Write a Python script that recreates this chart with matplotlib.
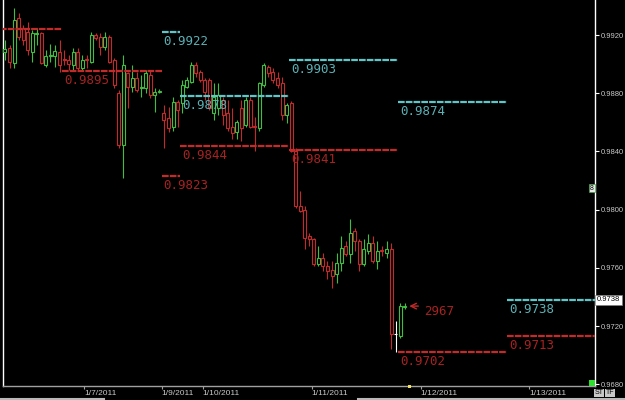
import numpy as np
import matplotlib
matplotlib.use("Agg")
import matplotlib.pyplot as plt
from matplotlib.patches import Rectangle
from matplotlib.lines import Line2D

# hourly candles (index 0 = first bar on the left)
opens = [
    .99082, .99110, .99006, .99317, .99248, .99220, .99082, .99206, .99213, .98993,
    .99055, .99055, .99082, .99034, .99027, .98993, .99082, .98972, .99034, .99013,
    .99200, .99186, .99117, .99186, .99027, .98800, .98441, .98938, .98841, .98903,
    .98834, .98834, .98924, .98786, .98806,
    .98662, .98627, .98565, .98738, .98731, .98841, .98875, .98993, .98944, .98889,
    .98889, .98662, .98696, .98751, .98662, .98565, .98531, .98696, .98579, .98751,
    .98572, .98558, .98855, .98979, .98944, .98903, .98869, .98648, .98731, .98406,
    .98027, .98000, .97820, .97800, .97627, .97669, .97613, .97586, .97558, .97634,
    .97751, .97696, .97855, .97786, .97627, .97717, .97772, .97648, .97724, .97703,
    .97731, .97144, .97131, .97330]
highs = [
    .99165, .99131, .99386, .99351, .99269, .99289, .99234, .99248, .99220, .99096,
    .99138, .99131, .99165, .99096, .99062, .99110, .99110, .99062, .99062, .99220,
    .99213, .99213, .99220, .99200, .99041, .98820, .99062, .98944, .98993, .98944,
    .98924, .98958, .98958, .98834, .98827,
    .98717, .98703, .98772, .98751, .98889, .98910, .99013, .99013, .98958, .98903,
    .98903, .98869, .98869, .98772, .98751, .98696, .98613, .98751, .98772, .98772,
    .98634, .98875, .99006, .98993, .98972, .98944, .98910, .98731, .98744, .98427,
    .98131, .98027, .97841, .97806, .97751, .97703, .97648, .97648, .97703, .97820,
    .97786, .97937, .97875, .97800, .97800, .97834, .97820, .97786, .97751, .97786,
    .97772, .97234, .97358, .97358]
lows = [
    .99027, .98972, .98972, .99165, .99131, .99062, .99013, .99131, .98999, .98979,
    .99013, .98979, .98944, .98993, .98958, .98958, .98958, .98958, .98972, .99006,
    .99165, .99062, .99096, .99006, .98834, .98427, .98220, .98696, .98806, .98806,
    .98772, .98800, .98765, .98669, .98800,
    .98427, .98531, .98544, .98565, .98662, .98834, .98869, .98910, .98875, .98751,
    .98682, .98613, .98648, .98579, .98544, .98489, .98489, .98475, .98565, .98558,
    .98406, .98544, .98841, .98910, .98869, .98834, .98613, .98593, .98393, .98013,
    .97986, .97731, .97751, .97613, .97613, .97579, .97524, .97462, .97496, .97579,
    .97682, .97634, .97717, .97579, .97613, .97696, .97634, .97593, .97682, .97669,
    .97041, .97020, .97117, .97317]
closes = [
    .99103, .99013, .99303, .99186, .99165, .99096, .99213, .99213, .99006, .99055,
    .99062, .99089, .98993, .99027, .98999, .99082, .98972, .99027, .99027, .99200,
    .99179, .99117, .99186, .99013, .98855, .98441, .98993, .98841, .98903, .98820,
    .98841, .98938, .98786, .98806, .98813,
    .98613, .98558, .98738, .98682, .98855, .98889, .98993, .98938, .98889, .98806,
    .98696, .98772, .98786, .98648, .98558, .98524, .98600, .98558, .98751, .98565,
    .98565, .98869, .98993, .98938, .98889, .98855, .98648, .98717, .98406, .98027,
    .97993, .97806, .97800, .97627, .97669, .97613, .97579, .97544, .97634, .97737,
    .97696, .97841, .97786, .97627, .97731, .97772, .97648, .97717, .97717, .97731,
    .97144, .97144, .97337, .97337]

# daily levels: start bar, end bar, price, label
red_start = [-1, 12.5, 34.5, 38.5, 62.5, 86.5, 110.5]
red_end = [12.5, 34.5, 38.5, 62.5, 86.5, 110.5, 131]
red_price = [0.9924, 0.9895, 0.9823, 0.9844, 0.9841, 0.9702, 0.9713]
red_label = [None, "0.9895", "0.9823", "0.9844", "0.9841", "0.9702", "0.9713"]

cyan_start = [34.5, 38.5, 62.5, 86.5, 110.5]
cyan_end = [38.5, 62.5, 86.5, 110.5, 131]
cyan_price = [0.9922, 0.9878, 0.9903, 0.9874, 0.9738]
cyan_label = ["0.9922", "0.9878", "0.9903", "0.9874", "0.9738"]

date_ticks = [17.5, 34.5, 43.5, 67.5, 91.5, 115.4]
date_labels = ["1/7/2011", "1/9/2011", "1/10/2011", "1/11/2011", "1/12/2011", "1/13/2011"]
price_ticks = [0.9920, 0.9880, 0.9840, 0.9800, 0.9760, 0.9720, 0.9680]

GREEN = "#3fbf3f"
RED = "#c42a2a"
RED_TXT = "#a82222"
CYAN = "#5cc6c8"
CYAN_TXT = "#5ab2b6"
MONO = "DejaVu Sans Mono"
SMALL = "Liberation Sans"

fig = plt.figure(figsize=(6.25, 4), dpi=100, facecolor="black")
ax = fig.add_axes([2.5 / 625, 1 - 385.7 / 400, 592.5 / 625, 385.7 / 400])
ax.set_facecolor("black")
ax.set_xlim(-0.55, 129.9)
ax.set_ylim(0.96790, 0.99441)

# candles
for i in range(len(opens)):
    o, h, l, c = opens[i], highs[i], lows[i], closes[i]
    if c > o:
        col = GREEN
    elif c < o:
        col = RED
    else:
        col = "white"
    ax.vlines(i, l, h, color=col, lw=0.8, zorder=3)
    bot = min(o, c)
    hgt = max(abs(c - o), 0.00003)
    ax.add_patch(Rectangle((i - 0.33, bot), 0.66, hgt, facecolor="black",
                           edgecolor=col, lw=0.8, zorder=4))

# level lines
for s, e, p, lab in zip(red_start, red_end, red_price, red_label):
    ax.plot([s, e], [p, p], color=RED, lw=1.6, ls=(0, (3, 0.5)), zorder=5)
    if lab:
        ax.annotate(lab, xy=(s, p), xytext=(2, -3), textcoords="offset pixels",
                    ha="left", va="top", color=RED_TXT, fontsize=9, family=MONO, zorder=6)
for s, e, p, lab in zip(cyan_start, cyan_end, cyan_price, cyan_label):
    ax.plot([s, e], [p, p], color=CYAN, lw=1.6, ls=(0, (3, 0.5)), zorder=5)
    ax.annotate(lab, xy=(s, p), xytext=(2, -3), textcoords="offset pixels",
                ha="left", va="top", color=CYAN_TXT, fontsize=9, family=MONO, zorder=6)

# last bar marker
last = len(opens) - 1
ax.annotate("", xy=(last + 0.4, closes[last]), xytext=(last + 3.6, closes[last]),
            arrowprops=dict(arrowstyle="->", color=RED, lw=1.0), zorder=6)
ax.annotate("2967", xy=(last + 4.2, closes[last]), xytext=(0, -5), textcoords="offset pixels",
            ha="left", va="center", color=RED_TXT, fontsize=9, family=MONO)

# axes styling
ax.spines["top"].set_visible(False)
ax.spines["left"].set_color("white")
ax.spines["right"].set_color("white")
ax.spines["bottom"].set_color("#a0a0a0")
for sp in ax.spines.values():
    sp.set_linewidth(1.0)

ax.yaxis.tick_right()
ax.set_yticks(price_ticks)
ax.set_yticklabels([f"{v:.4f}" for v in price_ticks], family=SMALL)
ax.tick_params(axis="y", colors="white", length=3, width=0.8, pad=1,
               labelsize=5.5, labelcolor="#c8c8c8")
ax.set_xticks(date_ticks)
ax.set_xticklabels(date_labels, family=SMALL)
ax.tick_params(axis="x", colors="#a0a0a0", length=2, width=0.8, pad=1,
               labelsize=6, labelcolor="#c8c8c8")
for t in ax.get_xticklabels():
    t.set_ha("left")

# current price box on the scale
ax.annotate("0.9738", xy=(1.003, 0.9738), xycoords=("axes fraction", "data"),
            ha="left", va="center", fontsize=5.5, color="black", family=SMALL,
            bbox=dict(boxstyle="square,pad=0.2", fc="white", ec="#808080", lw=0.5),
            annotation_clip=False)

# small widgets around the frame
fig.text(592 / 625, 1 - 188 / 400, "8", fontsize=5, color="black", ha="center", va="center",
         family=SMALL, bbox=dict(boxstyle="square,pad=0.1", fc="#e8e8e8", ec="#40a040", lw=0.5))
fig.add_artist(Rectangle((589 / 625, 1 - 386 / 400), 6 / 625, 6 / 400,
                         transform=fig.transFigure, fc="#30e030", ec="none"))
fig.add_artist(Rectangle((408 / 625, 1 - 388 / 400), 3 / 625, 3 / 400,
                         transform=fig.transFigure, fc="#f0e060", ec="none"))
fig.text(599 / 625, 1 - 393 / 400, "ST", fontsize=5, color="black", ha="center", va="center",
         family=SMALL, bbox=dict(boxstyle="square,pad=0.1", fc="#c8c8c8", ec="none"))
fig.text(610 / 625, 1 - 393 / 400, "TF", fontsize=5, color="black", ha="center", va="center",
         family=SMALL, bbox=dict(boxstyle="square,pad=0.1", fc="#c8c8c8", ec="none"))
fig.add_artist(Line2D([0, 104 / 625], [1.5 / 400, 1.5 / 400], color="#b8b8b8", lw=1.5))
fig.add_artist(Line2D([358 / 625, 1], [1.5 / 400, 1.5 / 400], color="#b8b8b8", lw=1.5))

fig.savefig("out.png", dpi=100, facecolor="black")
